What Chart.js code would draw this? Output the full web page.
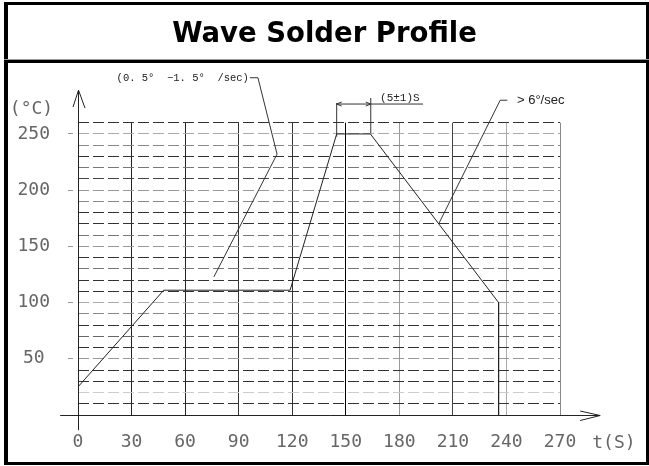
<!DOCTYPE html>
<html>
<head>
<meta charset="utf-8">
<title>Wave Solder Profile</title>
<script src="https://cdn.jsdelivr.net/npm/chart.js@4.4.1/dist/chart.umd.min.js"></script>
<style>
  html, body { margin: 0; padding: 0; background: #fff; }
  #wrap { width: 649px; height: 466px; }
</style>
</head>
<body>
<div id="wrap"><canvas id="profile" width="649" height="466"></canvas></div>
<script>
// time axis (s) and temperature axis (°C)
const timeTicks = [0, 30, 60, 90, 120, 150, 180, 210, 240, 270];
const tempGrid = [0, 10, 20, 30, 40, 50, 60, 70, 80, 90, 100, 110, 120, 130,
  140, 150, 160, 170, 180, 190, 200, 210, 220, 230, 240, 250, 260];
const tempLabels = [50, 100, 150, 200, 250];

// the profile itself
const profileTime = [0, 48, 118.8, 144.9, 163.8, 235.6, 235.6];
const profileTemp = [25, 111, 111, 250, 250, 100, 0];

// notes: leader lines in (s, °C)
const rampNoteText = '(0. 5°  \u22121. 5°  /sec)';
const rampNote = [[96.3, 300], [100.8, 300], [111.5, 232], [76.1, 122.8]];
const coolNoteText = '> 6°/sec';
const coolNote = [[240.5, 280], [236.5, 280], [202.2, 170.5]];
const dwellText = '(5±1)S';
const dwellStart = 144.9, dwellEnd = 164, dwellLineEnd = 193.3;

// shade of each grid line
const vShade = ['#000', '#222', '#222', '#333', '#333', '#000', '#999', '#444', '#aaa', '#888'];
const hShade = ['#000', '#333', '#ccc', '#333', '#333', '#999', '#333', '#666', '#333', '#888',
  '#aaa', '#333', '#333', '#777', '#333', '#999', '#777', '#333', '#333', '#888',
  '#999', '#444', '#777', '#333', '#888', '#aaa', '#333'];

const labelFont = '18px "DejaVu Sans Mono"';

const decor = {
  id: 'decor',
  afterLayout(chart) {
    // centre the title over the whole page, not only over the plot
    chart.titleBlock.left = 0;
    chart.titleBlock.right = chart.width;
  },
  afterDraw(chart) {
    const ctx = chart.ctx;
    const xs = chart.scales.x, ys = chart.scales.y;
    const px = v => xs.getPixelForValue(v);
    const py = v => ys.getPixelForValue(v);

    ctx.save();
    // frame
    ctx.fillStyle = '#000';
    ctx.fillRect(4, 2, 645, 3);
    ctx.fillRect(4, 2, 4, 463);
    ctx.fillRect(646, 2, 3, 463);
    ctx.fillRect(4, 462, 645, 3);
    ctx.fillRect(4, 60, 645, 3);
    ctx.fillStyle = '#999';
    ctx.fillRect(4, 59, 645, 1);

    // axes with arrows
    ctx.strokeStyle = '#222';
    ctx.lineWidth = 1;
    const x0 = Math.round(px(0)) + 0.5, y0 = Math.round(py(0)) + 0.5;
    const yTop = py(289), xEnd = px(292.5);
    ctx.beginPath();
    ctx.moveTo(x0, py(-13.5)); ctx.lineTo(x0, yTop);
    ctx.moveTo(x0 - 5.5, yTop + 17); ctx.lineTo(x0, yTop); ctx.lineTo(x0 + 6.5, yTop + 18);
    ctx.moveTo(px(-10), y0); ctx.lineTo(xEnd, y0);
    ctx.moveTo(xEnd - 20, y0 - 4.5); ctx.lineTo(xEnd, y0); ctx.lineTo(xEnd - 20, y0 + 5);
    ctx.stroke();

    // axis captions
    ctx.fillStyle = '#666';
    ctx.font = labelFont;
    ctx.textAlign = 'center';
    ctx.textBaseline = 'middle';
    ctx.fillText('(°C)', chart.chartArea.left - 46.5, py(272));
    ctx.fillText('t(S)', px(300.2), 443);

    // leader lines
    ctx.strokeStyle = '#333';
    const poly = pts => {
      ctx.beginPath();
      pts.forEach(([t, c], i) => i ? ctx.lineTo(px(t), py(c)) : ctx.moveTo(px(t), py(c)));
      ctx.stroke();
    };
    poly(rampNote);
    poly(coolNote);

    // dwell bracket
    ctx.beginPath();
    ctx.moveTo(px(dwellStart), py(247.6)); ctx.lineTo(px(dwellStart), py(277.5));
    ctx.moveTo(px(dwellEnd), py(250.8)); ctx.lineTo(px(dwellEnd), py(282));
    const ay = py(276.6);
    ctx.moveTo(px(dwellStart), ay); ctx.lineTo(px(dwellLineEnd), ay);
    ctx.moveTo(px(dwellStart) + 5, ay - 2); ctx.lineTo(px(dwellStart), ay); ctx.lineTo(px(dwellStart) + 5, ay + 2);
    ctx.moveTo(px(dwellEnd) - 5, ay - 2); ctx.lineTo(px(dwellEnd), ay); ctx.lineTo(px(dwellEnd) - 5, ay + 2);
    ctx.stroke();

    ctx.fillStyle = '#222';
    ctx.font = '11px "Liberation Mono"';
    ctx.textAlign = 'left';
    ctx.textBaseline = 'alphabetic';
    ctx.fillText(dwellText, px(169.2), ay - 3);
    ctx.font = '10.5px "Liberation Mono"';
    ctx.textAlign = 'right';
    ctx.textBaseline = 'middle';
    ctx.fillText(rampNoteText, px(rampNote[0][0]) - 1, py(rampNote[0][1]));
    ctx.font = '13px "Liberation Sans"';
    ctx.textAlign = 'left';
    ctx.fillText(coolNoteText, px(245.9), py(280.2));
    ctx.restore();
  }
};

new Chart(document.getElementById('profile'), {
  type: 'line',
  data: {
    datasets: [{
      data: profileTime.map((t, i) => ({ x: t, y: profileTemp[i] })),
      borderColor: '#222',
      borderWidth: 1,
      pointRadius: 0,
      tension: 0,
      fill: false
    }]
  },
  options: {
    responsive: false,
    animation: false,
    events: [],
    layout: { padding: { left: 0, right: 89, top: 0, bottom: 0 } },
    plugins: {
      legend: { display: false },
      tooltip: { enabled: false },
      title: {
        display: true,
        text: 'Wave Solder Profile',
        color: '#000',
        font: { family: 'DejaVu Sans', weight: 'bold', size: 27.5, lineHeight: 1.2 },
        padding: { top: 18, bottom: 71.7 }
      }
    },
    scales: {
      x: {
        type: 'linear',
        min: 0,
        max: 270,
        afterBuildTicks: s => { s.ticks = timeTicks.map(v => ({ value: v })); },
        afterFit: s => { s.height = 51; },
        grid: {
          color: c => vShade[timeTicks.indexOf(c.tick.value)] || '#333',
          drawTicks: false
        },
        border: { display: false },
        ticks: {
          padding: 17,
          color: '#666',
          font: { family: 'DejaVu Sans Mono', size: 18 },
          maxRotation: 0,
          autoSkip: false
        }
      },
      y: {
        min: 0,
        max: 260,
        afterBuildTicks: s => { s.ticks = tempGrid.map(v => ({ value: v })); },
        afterFit: s => { s.width = 78; },
        grid: {
          color: c => c.tick.value === 0 ? 'rgba(0,0,0,0)' : hShade[tempGrid.indexOf(c.tick.value)],
          tickColor: c => tempLabels.includes(c.tick.value) ? '#999' : 'rgba(0,0,0,0)',
          tickLength: 10,
          tickBorderDash: [5, 5]
        },
        border: { display: false, dash: [11, 4] },
        ticks: {
          callback: v => tempLabels.includes(v) ? String(v) : '',
          padding: 18,
          crossAlign: 'center',
          color: '#666',
          font: { family: 'DejaVu Sans Mono', size: 18 },
          autoSkip: false
        }
      }
    }
  },
  plugins: [decor]
});
</script>
</body>
</html>
